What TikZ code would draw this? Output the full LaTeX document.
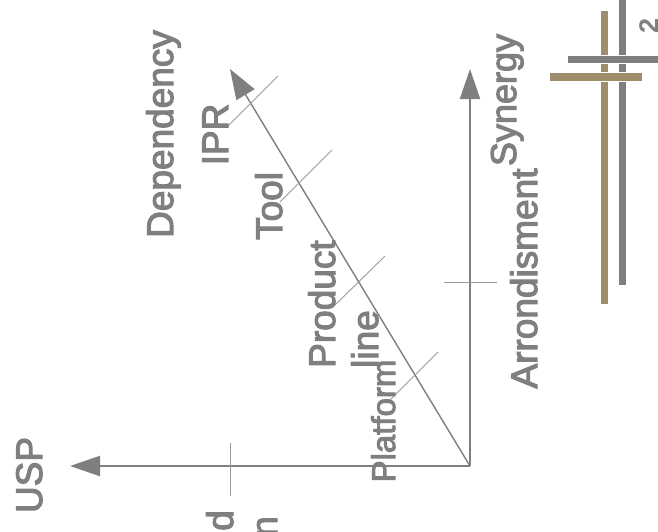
\documentclass[tikz,border=0pt]{standalone}
\usepackage{fontspec}
\setmainfont{Liberation Sans}
\newfontfamily\lblfont{Liberation Sans}[FakeBold=3]
\usetikzlibrary{arrows.meta}
\definecolor{axisgray}{HTML}{7F7F7F}
\definecolor{notchgray}{HTML}{9A9A9A}
\definecolor{bartan}{HTML}{9F8E6B}
\tikzset{
  axis/.style={line width=2pt, draw=axisgray, -{Triangle[length=30pt,width=20pt]}},
  diag/.style={line width=1.4pt, draw=axisgray, -{Triangle[length=30pt,width=21pt]}},
  notch/.style={line width=0.9pt, draw=notchgray},
  lbl/.style={rotate=90, anchor=base, inner sep=0pt, text=axisgray,
    font=\lblfont\fontsize{37}{43}\selectfont},
  small/.style={font=\lblfont\fontsize{33}{39}\selectfont},
  bar/.style={draw=white, line width=0.6pt}
}

\begin{document}
\begin{tikzpicture}[x=1pt, y=-1pt]
    \useasboundingbox (0,0) rectangle (658,531);
    \clip (0,0) rectangle (658,531);

    \coordinate (O) at (470,466);
    \coordinate (usp) at (70,466);
    \coordinate (syn) at (470,69);
    \coordinate (dep) at (230,69);

    \draw[axis] (O) -- (usp);
    \draw[axis] (O) -- (syn);
    \draw[diag] (O) -- (dep);

    % ticks
    \draw[notch] (230,443) -- (230,496);
    \draw[notch] (444,282) -- (497,282);
    \draw[notch] (227,127) -- (278,76);
    \draw[notch] (280,202) -- (332,150);
    \draw[notch] (332,308) -- (385,256);
    \draw[notch] (387,403) -- (438,352);

    \node[lbl] (usplbl) at (42,475) {USP};
    \node[lbl] (deplbl) at (173,134) {Dependency};
    \node[lbl] (ipr) at (228,134.5) {IPR};
    \node[lbl] (tool) at (282,206) {Tool};
    \node[lbl, anchor=base west] (prod) at (335,368) {Product};
    \node[lbl, anchor=base west] (line) at (378,368) {line};
    \node[lbl, small] (plat) at (395,421) {Platform};
    \node[lbl] (arr) at (537,278.5) {Arrondisment};
    \node[lbl, font=\lblfont\fontsize{36}{42}\selectfont] (synlbl) at (516,100) {Synergy};
    \node[lbl, anchor=base east] (dlbl) at (233,510) {d};
    \node[lbl, anchor=base east] (nlbl) at (277,516) {n};
    \node[lbl, font=\fontsize{27}{32}\selectfont\bfseries] (pagenum) at (658,25.5) {2};

    \fill[bartan, bar] (600.5,10) rectangle (608.5,304);
    \fill[axisgray, bar] (618,-2) rectangle (626,285);
    \fill[axisgray, bar] (567,55) rectangle (662,63);
    \fill[bartan, bar] (549,72.5) rectangle (642,81.5);
\end{tikzpicture}
\end{document}
